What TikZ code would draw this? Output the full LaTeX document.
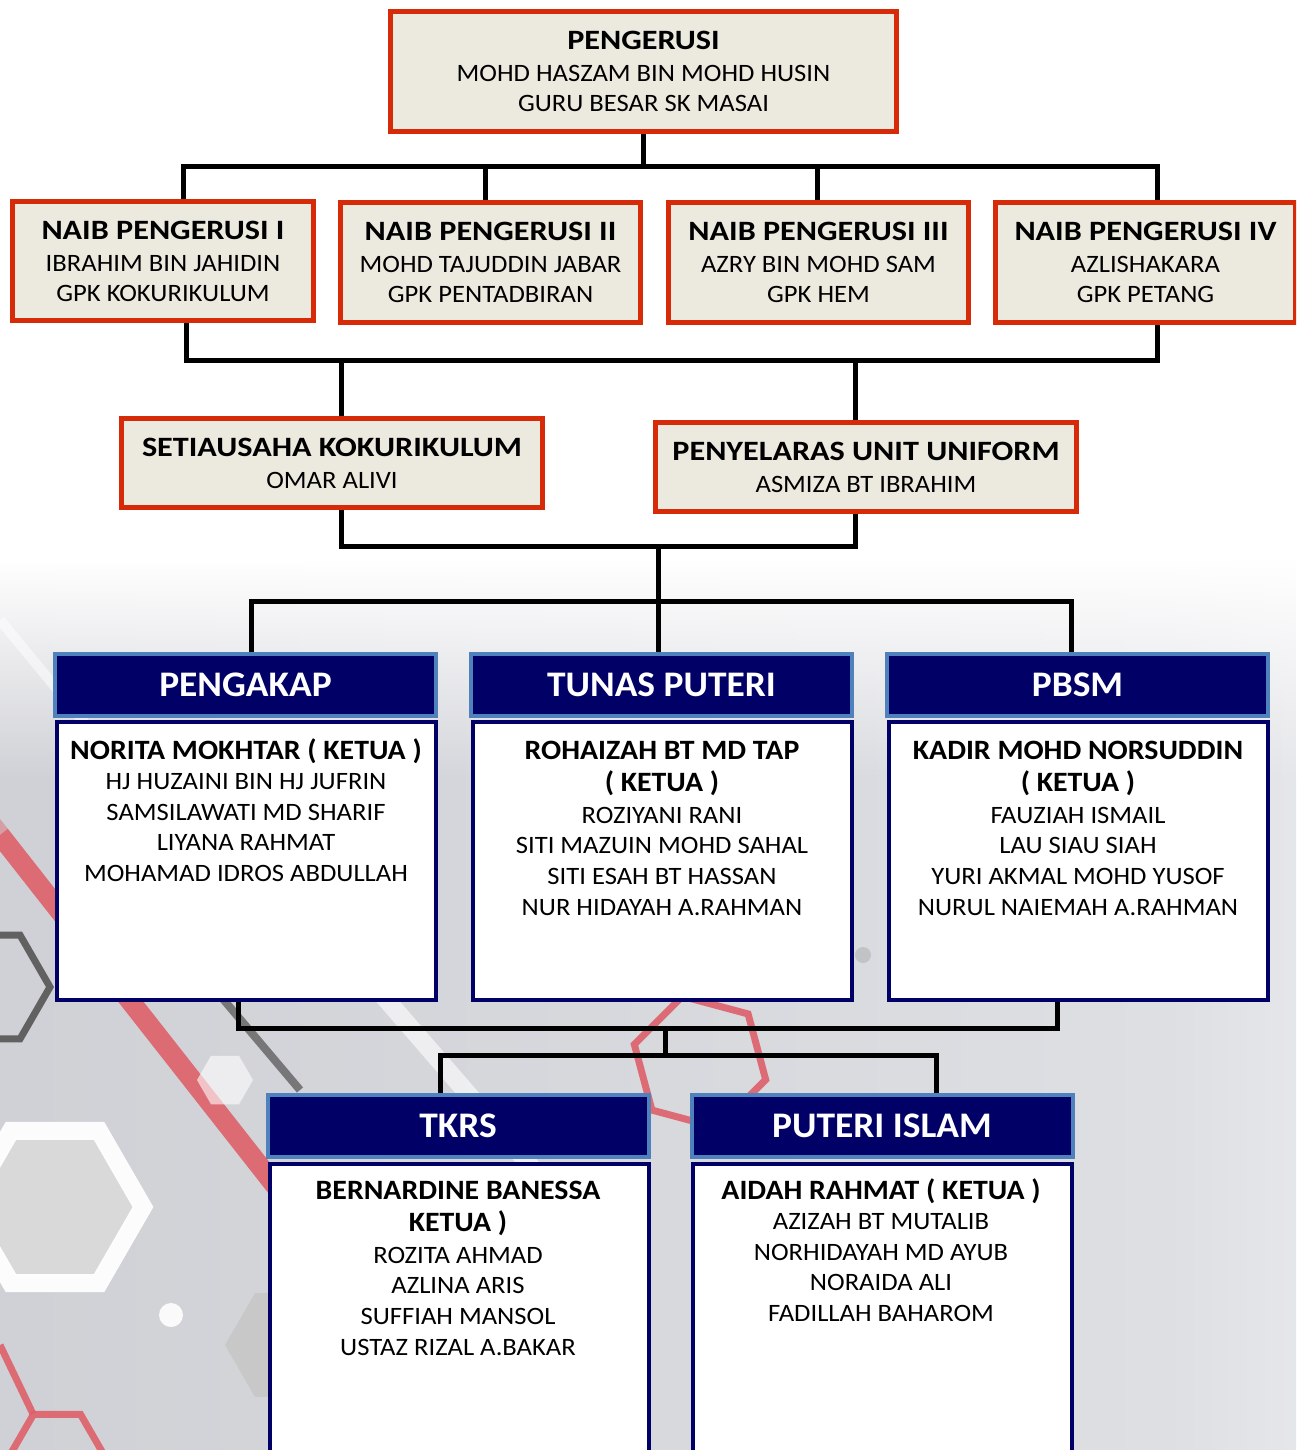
\documentclass[tikz,border=0pt]{standalone}
\usepackage{fontspec}
\setmainfont[FakeStretch=1.065]{Carlito}
\newfontfamily\rtfont[FakeStretch=1.15]{Carlito}
\newfontfamily\hdfont[FakeStretch=1.04]{Carlito}
\usetikzlibrary{backgrounds,fadings}
\definecolor{redc}{RGB}{214,42,8}
\definecolor{beige}{RGB}{236,233,223}
\definecolor{navy}{RGB}{0,0,102}
\definecolor{lblue}{RGB}{79,129,189}
\definecolor{bgA}{RGB}{200,201,206}
\definecolor{bgB}{RGB}{222,223,227}
\definecolor{hexred}{RGB}{222,96,106}
\pgfdeclarehorizontalshading{bgsh}{100bp}{color(0bp)=(bgA); color(70bp)=(bgB); color(92bp)=(white); color(100bp)=(white)}
\begin{document}
\begin{tikzpicture}[x=0.5pt,y=-0.5pt,
  rbox/.style={draw=redc, fill=beige, line width=2.5pt, inner sep=0pt, align=center,
    font=\fontsize{12.5}{15}\selectfont},
  hbox/.style={draw=lblue, fill=navy, line width=2pt, inner sep=0pt, text=white,
    font=\hdfont\fontsize{18}{20}\selectfont\bfseries, minimum width=190.5pt, minimum height=31pt},
  bbox/.style={draw=navy, fill=white, line width=2pt, inner sep=0pt,
    minimum width=189.5pt, minimum height=139pt},
  lbox/.style={bbox, minimum height=160pt, anchor=north},
  btext/.style={anchor=north, align=center, inner sep=0pt, font=\fontsize{12.5}{15.3}\selectfont},
  conn/.style={line width=2.5pt, line cap=rect, line join=miter, draw=black}]
\clip (0,0) rectangle (1296,1450);
\newcommand{\ttl}[1]{{\rtfont\fontsize{14}{15}\selectfont\bfseries #1}}
\newcommand{\btl}[1]{{\fontsize{14}{15.3}\selectfont\bfseries #1}}

% ---------- red boxes ----------
\node[rbox, minimum width=253pt, minimum height=60pt] (peng) at (643.5,71.5)
  {\ttl{PENGERUSI}\\[1pt] MOHD HASZAM BIN MOHD HUSIN\\ GURU BESAR SK MASAI};
\node[rbox, minimum width=150.5pt, minimum height=59.5pt] (n1) at (163,261)
  {\ttl{NAIB PENGERUSI I}\\[1pt] IBRAHIM BIN JAHIDIN\\ GPK KOKURIKULUM};
\node[rbox, minimum width=150pt, minimum height=60pt] (n2) at (490.5,262.5)
  {\ttl{NAIB PENGERUSI II}\\[1pt] MOHD TAJUDDIN JABAR\\ GPK PENTADBIRAN};
\node[rbox, minimum width=150pt, minimum height=60pt] (n3) at (818.5,262.5)
  {\ttl{NAIB PENGERUSI III}\\[1pt] AZRY BIN MOHD SAM\\ GPK HEM};
\node[rbox, minimum width=150pt, minimum height=60pt] (n4) at (1145.5,262.5)
  {\ttl{NAIB PENGERUSI IV}\\[1pt] AZLISHAKARA\\ GPK PETANG};
\node[rbox, minimum width=210.5pt, minimum height=44.5pt] (sec) at (332,463)
  {\ttl{SETIAUSAHA KOKURIKULUM}\\[1pt] OMAR ALIVI};
\node[rbox, minimum width=210.5pt, minimum height=44.5pt] (pen) at (866,467)
  {\ttl{PENYELARAS UNIT UNIFORM}\\[1pt] ASMIZA BT IBRAHIM};

% ---------- blue boxes ----------
\node[hbox] (hpk) at (245.5,685) {PENGAKAP};
\node[bbox] (bpk) at (246.5,861) {};
\node[btext] (tpk) at (246,738) {\btl{NORITA MOKHTAR ( KETUA )}\\ HJ HUZAINI BIN HJ JUFRIN\\
  SAMSILAWATI MD SHARIF\\ LIYANA RAHMAT\\ MOHAMAD IDROS ABDULLAH};

\node[hbox] (htp) at (661.5,685) {TUNAS PUTERI};
\node[bbox] (btp) at (662.5,861) {};
\node[btext] (ttp) at (662,738) {\btl{\vphantom{(}ROHAIZAH BT MD TAP}\\[1pt] \btl{( KETUA )}\\[0.5pt]
  ROZIYANI RANI\\ SITI MAZUIN MOHD SAHAL\\ SITI ESAH BT HASSAN\\ NUR HIDAYAH A.RAHMAN};

\node[hbox] (hpb) at (1077.5,685) {PBSM};
\node[bbox] (bpb) at (1078.5,861) {};
\node[btext] (tpb) at (1078,738) {\btl{\vphantom{(}KADIR MOHD NORSUDDIN}\\[1pt] \btl{( KETUA )}\\[0.5pt]
  FAUZIAH ISMAIL\\ LAU SIAU SIAH\\ YURI AKMAL MOHD YUSOF\\ NURUL NAIEMAH A.RAHMAN};

\node[hbox] (htk) at (458,1125.5) {TKRS};
\node[lbox] (btk) at (459,1162) {};
\node[btext] (ttk) at (458,1178) {\btl{\vphantom{(}BERNARDINE BANESSA}\\[1pt] \btl{KETUA )}\\[0.5pt]
  ROZITA AHMAD\\ AZLINA ARIS\\ SUFFIAH MANSOL\\ USTAZ RIZAL A.BAKAR};

\node[hbox] (hpi) at (882,1125.5) {PUTERI ISLAM};
\node[lbox] (bpi) at (882,1162) {};
\node[btext] (tpi) at (881,1178) {\btl{AIDAH RAHMAT ( KETUA )}\\ AZIZAH BT MUTALIB\\
  NORHIDAYAH MD AYUB\\ NORAIDA ALI\\ FADILLAH BAHAROM};

\begin{pgfonlayer}{background}
  % background
  \fill[white] (0,0) rectangle (1296,1450);
  \shade[shading=bgsh, path fading=north] (0,560) rectangle (1296,780);
  \shade[shading=bgsh] (0,779) rectangle (1296,1450);
  % decorative shapes
  \draw[white, opacity=0.6, line width=9pt] (300,900) -- (560,1200);
  \draw[white, opacity=0.5, line width=5pt] (0,620) -- (140,790);
  \draw[gray!70!black, opacity=0.75, line width=4pt] (190,960) -- (300,1090);
  \draw[hexred, line width=10pt, opacity=0.45] (-60,760) -- (0,835);
  \draw[hexred, line width=10pt, opacity=0.9] (0,835) -- (310,1230);
  \draw[gray!55!black, line width=3.5pt, opacity=0.8]
    (-10,987) +(0:60) -- +(60:60) -- +(120:60) -- +(180:60) -- +(240:60) -- +(300:60) -- cycle;
  \fill[gray!30] (55,1207) +(0:80) -- +(60:80) -- +(120:80) -- +(180:80) -- +(240:80) -- +(300:80) -- cycle;
  \draw[white, line width=9pt, opacity=0.95]
    (55,1207) +(0:88) -- +(60:88) -- +(120:88) -- +(180:88) -- +(240:88) -- +(300:88) -- cycle;
  \fill[white, opacity=0.6] (225,1080) +(0:28) -- +(60:28) -- +(120:28) -- +(180:28) -- +(240:28) -- +(300:28) -- cycle;
  \fill[gray!45, opacity=0.8] (285,1345) +(0:60) -- +(60:60) -- +(120:60) -- +(180:60) -- +(240:60) -- +(300:60) -- cycle;
  \draw[hexred, line width=3.5pt, opacity=0.9]
    (700,1062) +(15:68) -- +(75:68) -- +(135:68) -- +(195:68) -- +(255:68) -- +(315:68) -- cycle;
  \draw[hexred, line width=3.5pt, opacity=0.9]
    (57,1455) +(0:47) -- +(60:47) -- +(120:47) -- +(180:47) -- +(240:47) -- +(300:47) -- cycle;
  \draw[hexred, line width=3.5pt, opacity=0.9] (33,1414) -- (0,1345);
  \fill[white, opacity=0.9] (171,1315) circle (12);
  \fill[gray!55, opacity=0.7] (863,955) circle (8);

  % connectors
  \coordinate (a1) at (183,166);
  \coordinate (a2) at (485,166);
  \coordinate (a3) at (817,166);
  \coordinate (a4) at (1157,166);
  \draw[conn] (peng.south) -- (peng.south |- a1);
  \draw[conn] (a1) -- (a4);
  \draw[conn] (a1) -- (a1 |- n1.north);
  \draw[conn] (a2) -- (a2 |- n2.north);
  \draw[conn] (a3) -- (a3 |- n3.north);
  \draw[conn] (a4) -- (a4 |- n4.north);

  \coordinate (c1) at (186,360);
  \coordinate (c4) at (1157,360);
  \coordinate (d1) at (341,360);
  \coordinate (d2) at (855,360);
  \draw[conn] (c1 |- n1.south) -- (c1) -- (c4) -- (c4 |- n4.south);
  \draw[conn] (d1) -- (d1 |- sec.north);
  \draw[conn] (d2) -- (d2 |- pen.north);

  \coordinate (e1) at (341,546);
  \coordinate (e2) at (855,546);
  \coordinate (f0) at (658,546);
  \coordinate (g0) at (658,601);
  \coordinate (g1) at (251,601);
  \coordinate (g3) at (1071,601);
  \draw[conn] (e1 |- sec.south) -- (e1) -- (e2) -- (e2 |- pen.south);
  \draw[conn] (f0) -- (g0);
  \draw[conn] (g1) -- (g3);
  \draw[conn] (g1) -- (g1 |- hpk.north);
  \draw[conn] (g0) -- (g0 |- htp.north);
  \draw[conn] (g3) -- (g3 |- hpb.north);

  \coordinate (h1) at (238,1028);
  \coordinate (h3) at (1057,1028);
  \coordinate (h0) at (665,1028);
  \coordinate (i0) at (665,1055);
  \coordinate (i1) at (440,1055);
  \coordinate (i2) at (936,1055);
  \draw[conn] (h1 |- bpk.south) -- (h1) -- (h3) -- (h3 |- bpb.south);
  \draw[conn] (h0) -- (i0);
  \draw[conn] (i1) -- (i2);
  \draw[conn] (i1) -- (i1 |- htk.north);
  \draw[conn] (i2) -- (i2 |- hpi.north);
\end{pgfonlayer}
\end{tikzpicture}
\end{document}
